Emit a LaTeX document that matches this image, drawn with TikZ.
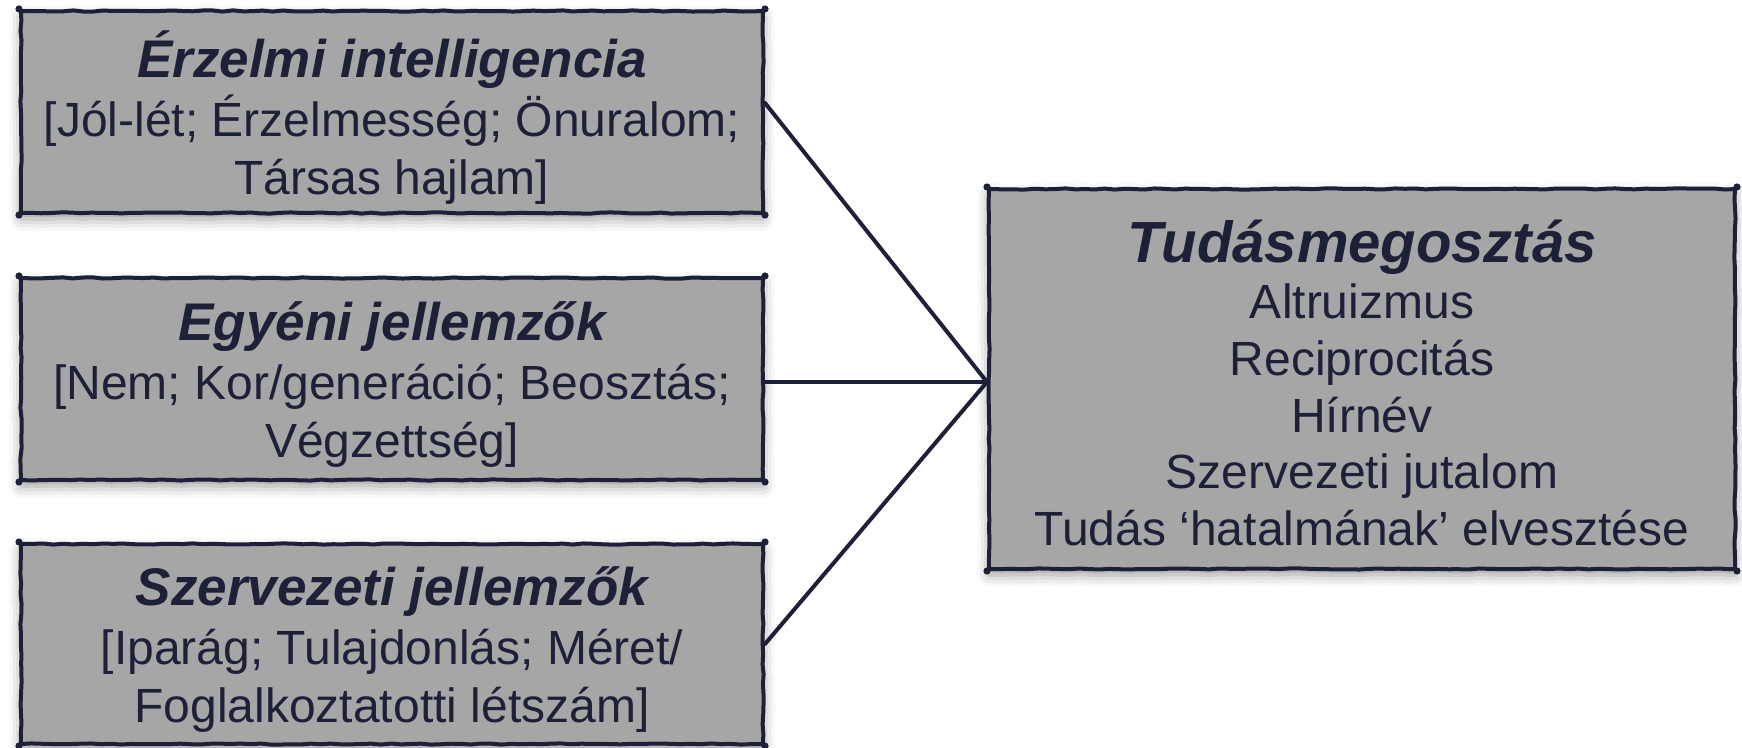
\documentclass[tikz,border=0pt]{standalone}
\usepackage{fontspec}
\setmainfont{Liberation Sans}
\usetikzlibrary{shadows.blur,decorations.pathmorphing}
\definecolor{ink}{HTML}{1E2038}
\definecolor{boxgray}{HTML}{A6A6A6}
\begin{document}
\begin{tikzpicture}[x=0.5pt,y=-0.5pt]
\useasboundingbox (0,0) rectangle (1742,748);
\pgfmathsetseed{7}
\tikzset{
  box/.style={draw=ink, fill=boxgray, line width=2pt, line join=round, rectangle,
    inner sep=0pt, decorate, decoration={random steps, segment length=5pt, amplitude=0.3pt},
    blur shadow={shadow xshift=0pt, shadow yshift=-3pt, shadow blur radius=6pt, shadow opacity=40}},
  txtL/.style={text=ink, align=center, inner sep=0pt, font=\fontsize{24}{29.1}\selectfont},
  txtR/.style={text=ink, align=center, inner sep=0pt, font=\fontsize{24}{28.3}\selectfont},
  conn/.style={draw=ink, line width=2pt, line cap=round},
  blob/.style={fill=ink}
}
\newcommand{\ttlL}[1]{{\fontsize{26.5}{29.1}\selectfont\bfseries\itshape #1}}
\newcommand{\ttlR}[1]{{\fontsize{29}{30}\selectfont\bfseries\itshape #1}}
\node[box, minimum width=371pt, minimum height=101pt] (b1) at (392,112) {};
\node[box, minimum width=371pt, minimum height=101pt] (b2) at (392,379) {};
\node[box, minimum width=371pt, minimum height=100pt] (b3) at (392,644) {};
\node[box, minimum width=373pt, minimum height=190pt] (r) at (1362,379) {};
\foreach \b in {b1,b2,b3,r}{
  \foreach \c in {north west,north east,south west,south east}{
    \fill[blob] (\b.\c) circle (1.8pt);
  }
}
\node[txtL] (t1) at ([yshift=-2.8pt]b1.center)
  {\ttlL{Érzelmi intelligencia}\\ {[}Jól-lét; Érzelmesség; Önuralom;\\ Társas hajlam]};
\node[txtL] (t2) at ([yshift=-2.8pt]b2.center)
  {\ttlL{Egyéni jellemzők}\\ {[}Nem; Kor/generáció; Beosztás;\\ Végzettség]};
\node[txtL] (t3) at ([yshift=-2.8pt]b3.center)
  {\ttlL{Szervezeti jellemzők}\\ {[}Iparág; Tulajdonlás; Méret/\\ Foglalkoztatotti létszám]};
\node[txtR] (tr) at ([yshift=-1.9pt]r.center)
  {\ttlR{Tudásmegosztás}\\ Altruizmus\\ Reciprocitás\\ Hírnév\\ Szervezeti jutalom\\ Tudás ‘hatalmának’ elvesztése};
\coordinate (m) at ([yshift=-1.5pt]r.west);
\draw[conn] ([yshift=4.5pt]b1.east) -- (m);
\draw[conn] ([yshift=-1.5pt]b2.east) -- (m);
\draw[conn] (b3.east) -- (m);
\end{tikzpicture}
\end{document}
